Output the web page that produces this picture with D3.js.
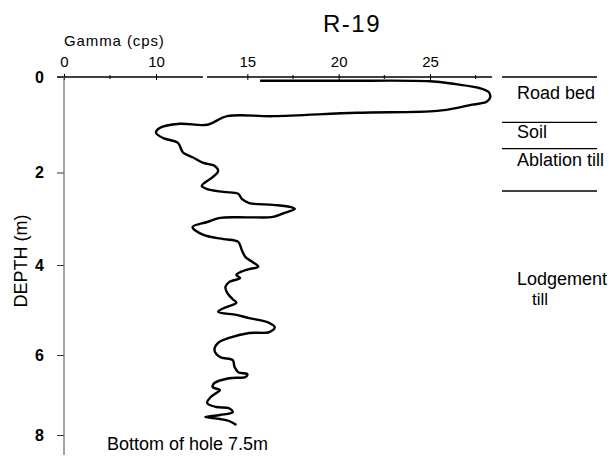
<!DOCTYPE html>
<html>
<head>
<meta charset="utf-8">
<script src="https://cdn.jsdelivr.net/npm/d3@7"></script>
<style>
  body { margin: 0; background: #fff; }
  text { font-family: "Liberation Sans", Arial, Helvetica, sans-serif; fill: #000; }
</style>
</head>
<body>
<svg id="chart" width="614" height="456"></svg>
<script>
// gamma log, R-19
var gamma = [15.7,20.1,25.0,26.4,27.7,28.2,28.3,28.1,27.3,26.7,
             25.4,21.0,16.4,13.9,12.8,11.3,10.2,10.0,10.4,11.2,
             11.4,11.5,12.0,12.6,13.2,13.4,13.1,12.7,12.5,12.8,
             13.7,14.5,14.7,15.1,16.4,17.4,17.6,17.0,16.4,15.1,
             13.5,12.8,12.0,12.6,13.7,14.5,14.7,14.9,15.3,15.6,
             15.1,14.6,14.4,14.6,14.0,13.8,13.9,14.2,14.4,13.7,
             13.4,14.4,15.1,16.1,16.5,16.2,15.1,14.0,13.4,13.2,
             13.5,14.2,14.3,14.5,15.0,14.9,14.0,13.2,13.1,13.5,
             13.3,13.0,12.8,13.3,14.0,14.2,13.5,12.7,13.5,14.0,14.4];
var depth = [0.08,0.08,0.09,0.15,0.23,0.31,0.42,0.52,0.58,0.63,
             0.71,0.75,0.82,0.82,1.0,0.98,1.07,1.17,1.28,1.38,
             1.53,1.59,1.68,1.80,1.86,1.97,2.10,2.21,2.29,2.36,
             2.42,2.46,2.57,2.66,2.70,2.75,2.79,2.88,2.96,2.97,
             2.98,3.07,3.18,3.35,3.44,3.50,3.68,3.83,3.94,4.04,
             4.09,4.16,4.22,4.29,4.38,4.49,4.62,4.76,4.84,4.96,
             5.04,5.11,5.18,5.27,5.38,5.49,5.51,5.62,5.73,5.89,
             6.05,6.13,6.30,6.43,6.48,6.55,6.58,6.70,6.80,6.88,
             6.95,7.05,7.20,7.30,7.33,7.43,7.50,7.55,7.60,7.65,7.75];

var gammaTicks = [0, 10, 15, 20, 25];
var gammaMinor = [5, 17.5, 22.5, 27.5];
var depthTicks = [0, 2, 4, 6, 8];

// layer boundaries (m) and labels (second line after the "|")
var layerTops = [0, 0.95, 1.5, 2.4];
var layerNames = ["Road bed", "Soil", "Ablation till", "Lodgement|till"];
var layerLabelDepths = [0.46, 1.28, 1.87, 4.44];

var svg = d3.select("#chart");

// broken gamma axis: 0..10 squeezed, linear above 10
var x = d3.scaleLinear().domain([0, 10, 25]).range([64, 156, 430]);
// the scan is slightly stretched, so depth is piecewise too
var y = d3.scaleLinear().domain([0, 2, 4, 6, 8]).range([77, 172.5, 265, 355, 435]);

svg.append("text")
    .attr("x", 352).attr("y", 32)
    .attr("text-anchor", "middle")
    .style("font-size", "24px")
    .style("letter-spacing", "1.5px")
    .text("R-19");

svg.append("text")
    .attr("x", 64).attr("y", 46)
    .style("font-size", "15px")
    .style("letter-spacing", "0.9px")
    .text("Gamma (cps)");

// top axis line with the break
svg.append("line")
    .attr("x1", 57).attr("x2", 203)
    .attr("y1", y(0)).attr("y2", y(0))
    .attr("stroke", "#000").attr("stroke-width", 1.3);
svg.append("line")
    .attr("x1", 207).attr("x2", x(28.4))
    .attr("y1", y(0)).attr("y2", y(0))
    .attr("stroke", "#000").attr("stroke-width", 1.3);

var xAxis = svg.append("g")
    .attr("transform", "translate(0," + y(0) + ")")
    .call(d3.axisTop(x).tickValues(gammaTicks).tickSize(3).tickPadding(7).tickFormat(d3.format("d")));
xAxis.select(".domain").remove();
xAxis.selectAll(".tick line").attr("y2", -3).attr("y1", 3);
xAxis.selectAll(".tick text")
    .style("font-size", "15px")
    .style("font-family", "Liberation Sans, Arial, sans-serif");

svg.append("g").selectAll("line")
    .data(gammaMinor)
    .enter().append("line")
    .attr("x1", function(d) { return x(d); })
    .attr("x2", function(d) { return x(d); })
    .attr("y1", y(0) - 2).attr("y2", y(0) + 2)
    .attr("stroke", "#000");

// depth axis
var yAxis = svg.append("g")
    .attr("transform", "translate(" + x(0) + ",0)")
    .call(d3.axisLeft(y).tickValues(depthTicks).tickSize(7).tickPadding(13));
yAxis.select(".domain").remove();
yAxis.selectAll(".tick line").attr("stroke", "#333");
yAxis.selectAll(".tick text")
    .style("font-size", "16px")
    .style("font-weight", "bold")
    .style("font-family", "Liberation Sans, Arial, sans-serif");

svg.append("line")
    .attr("x1", x(0)).attr("x2", x(0))
    .attr("y1", y(0)).attr("y2", y(8.5))
    .attr("stroke", "#666").attr("stroke-width", 1.2);

svg.append("text")
    .attr("transform", "translate(27," + 261 + ") rotate(-90)")
    .attr("text-anchor", "middle")
    .style("font-size", "18px")
    .text("DEPTH (m)");

// the log
var line = d3.line()
    .x(function(d) { return x(d[0]); })
    .y(function(d) { return y(d[1]); })
    .curve(d3.curveCatmullRom.alpha(0.5));

svg.append("path")
    .datum(d3.zip(gamma, depth))
    .attr("fill", "none")
    .attr("stroke", "#000")
    .attr("stroke-width", 2.4)
    .attr("stroke-linejoin", "round")
    .attr("d", line);

// layer column on the right
svg.append("g").selectAll("line")
    .data(layerTops)
    .enter().append("line")
    .attr("x1", 502).attr("x2", 597)
    .attr("y1", function(d) { return y(d); })
    .attr("y2", function(d) { return y(d); })
    .attr("stroke", "#000").attr("stroke-width", 1.3);

var labels = svg.append("g").selectAll("text")
    .data(layerNames)
    .enter().append("text")
    .attr("y", function(d, i) { return y(layerLabelDepths[i]); })
    .style("font-size", "18px");

labels.selectAll("tspan")
    .data(function(d) { return d.split("|"); })
    .enter().append("tspan")
    .attr("x", function(d, i) { return i == 0 ? 517 : 532; })
    .attr("dy", function(d, i) { return i == 0 ? 0 : 20; })
    .style("font-size", function(d, i) { return i == 0 ? "18px" : "17px"; })
    .text(function(d) { return d; });

svg.append("text")
    .attr("x", x(0) + 43)
    .attr("y", y(8) + 15)
    .style("font-size", "18px")
    .text("Bottom of hole 7.5m");
</script>
</body>
</html>
